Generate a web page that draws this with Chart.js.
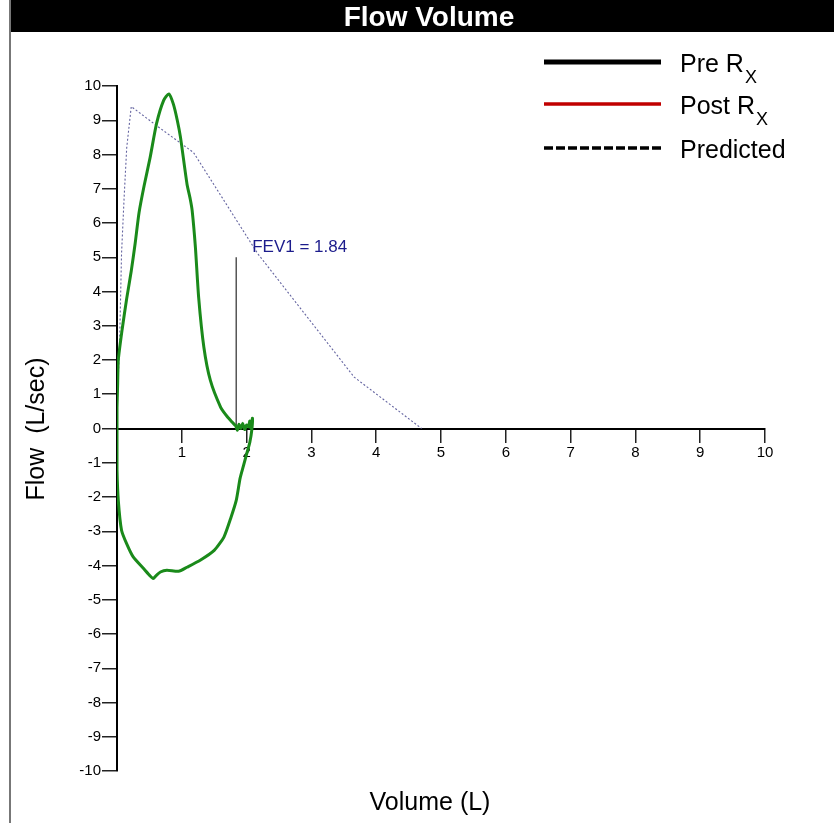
<!DOCTYPE html>
<html>
<head>
<meta charset="utf-8">
<title>Flow Volume</title>
<script src="https://cdn.jsdelivr.net/npm/chart.js@4/dist/chart.umd.min.js"></script>
<style>
    html, body { margin: 0; padding: 0; background: #fff; }
    #flowVolumeChart { display: block; }
</style>
</head>
<body>
<canvas id="flowVolumeChart" width="834" height="823"></canvas>
<script>
/* ============================================================================
   Flow Volume loop
   - measured loop (green), predicted curve (dotted), FEV1 marker
   - legend / title bar drawn by a small plugin (needs subscripts)
   ============================================================================ */

// Measured loop: expiration (0 -> FVC), then inspiration back to 0
const loopVolume = [
    0.00, 0.00, 0.01, 0.02, 0.08, 0.15, 0.22, 0.28, 0.34, 0.42, 0.51, 0.61, 0.72, 0.80, 0.87, 0.93,
    0.98, 1.08, 1.13, 1.16, 1.21, 1.26, 1.34, 1.44, 1.60, 1.70, 1.78, 1.83, 1.86, 1.88, 1.91, 1.94,
    1.97, 2.00, 2.03, 2.05, 2.07, 2.09,
    2.08, 2.05, 2.00, 1.95, 1.90, 1.84, 1.76, 1.65, 1.50, 1.29, 1.08, 0.95, 0.77, 0.67, 0.60, 0.56,
    0.50, 0.41, 0.25, 0.15, 0.07, 0.02, 0.00, 0.00, 0.00
];
const loopFlow = [
    0.00, 0.60, 1.30, 2.00, 2.90, 3.80, 4.60, 5.40, 6.30, 7.10, 7.90, 8.90, 9.58, 9.77, 9.47, 9.00,
    8.50, 7.14, 6.70, 6.36, 5.29, 3.83, 2.38, 1.41, 0.62, 0.35, 0.18, 0.08, -0.05, 0.12, 0.00, 0.15,
    -0.03, 0.10, 0.05, 0.22, 0.00, 0.30,
    -0.05, -0.40, -0.75, -1.10, -1.45, -2.10, -2.59, -3.17, -3.56, -3.84, -4.05, -4.17, -4.14, -4.19, -4.30, -4.38,
    -4.28, -4.09, -3.75, -3.37, -2.97, -2.10, -1.20, -0.50, 0.00
];

// Predicted expiratory curve
const predVolume = [0.00, 0.01, 0.04, 0.07, 0.11, 0.15, 0.22, 0.67, 1.18, 2.17, 3.66, 4.70];
const predFlow   = [0.00, 1.00, 2.50, 5.10, 6.75, 8.20, 9.40, 8.76, 8.06, 5.11, 1.50, 0.00];

// FEV1 marker
const fev1Value = 1.84;
const fev1Height = 5;

// Axes
const volumeTicks = [0, 1, 2, 3, 4, 5, 6, 7, 8, 9, 10];
const flowTicks = [-10, -9, -8, -7, -6, -5, -4, -3, -2, -1, 0, 1, 2, 3, 4, 5, 6, 7, 8, 9, 10];

// Legend entries (main text + subscript)
const legendLabels = ['Pre R', 'Post R', 'Predicted'];
const legendSubs = ['X', 'X', ''];

const toPoints = (xs, ys) => xs.map((x, i) => ({ x: x, y: ys[i] }));

const tickFont = { family: '"Liberation Sans", Arial, sans-serif', size: 15 };

// Title bar, frame, axis titles, legend and FEV1 label
const decorPlugin = {
    id: 'decor',
    beforeDraw(chart) {
        const c = chart.ctx;
        c.save();
        c.fillStyle = '#fff';
        c.fillRect(0, 0, chart.width, chart.height);
        c.fillStyle = '#000';
        c.fillRect(11, 0, chart.width - 11, 32);
        c.strokeStyle = '#777';
        c.lineWidth = 2;
        c.beginPath();
        c.moveTo(10, 0);
        c.lineTo(10, chart.height);
        c.stroke();
        c.fillStyle = '#fff';
        c.font = 'bold 28px "Liberation Sans", Arial, sans-serif';
        c.textAlign = 'center';
        c.textBaseline = 'alphabetic';
        c.fillText('Flow Volume', 429, 26);
        c.restore();
    },
    afterDraw(chart) {
        const c = chart.ctx;
        const xs = chart.scales.x;
        const ys = chart.scales.y;
        c.save();

        // axis titles
        c.fillStyle = '#000';
        c.font = '25px "Liberation Sans", Arial, sans-serif';
        c.textAlign = 'center';
        c.textBaseline = 'middle';
        c.fillText('Volume (L)', 430, 803);
        c.translate(37, 429);
        c.rotate(-Math.PI / 2);
        c.fillText('Flow  (L/sec)', 0, 0);
        c.setTransform(1, 0, 0, 1, 0, 0);

        // FEV1 label
        c.fillStyle = '#1c1c8c';
        c.font = '17px "Liberation Sans", Arial, sans-serif';
        c.textAlign = 'left';
        c.textBaseline = 'alphabetic';
        c.fillText('FEV1 = ' + fev1Value.toFixed(2), xs.getPixelForValue(fev1Value) + 16, ys.getPixelForValue(fev1Height) - 5);

        // legend
        const styles = [
            { color: '#000', width: 5, dash: [] },
            { color: '#c00000', width: 3.5, dash: [] },
            { color: '#000', width: 3.5, dash: [9, 3] }
        ];
        const rowY = [62, 104, 148];
        legendLabels.forEach((label, i) => {
            c.strokeStyle = styles[i].color;
            c.lineWidth = styles[i].width;
            c.setLineDash(styles[i].dash);
            c.beginPath();
            c.moveTo(544, rowY[i]);
            c.lineTo(661, rowY[i]);
            c.stroke();
            c.setLineDash([]);
            c.fillStyle = '#000';
            c.font = '25px "Liberation Sans", Arial, sans-serif';
            c.fillText(label, 680, rowY[i] + 10);
            if (legendSubs[i]) {
                const w = c.measureText(label).width;
                c.font = '18px "Liberation Sans", Arial, sans-serif';
                c.fillText(legendSubs[i], 680 + w + 1, rowY[i] + 21);
            }
        });
        c.restore();
    }
};

const ctx = document.getElementById('flowVolumeChart');

const flowVolumeChart = new Chart(ctx, {
    type: 'scatter',
    data: {
        datasets: [
            {
                label: 'Predicted',
                data: toPoints(predVolume, predFlow),
                showLine: true,
                borderColor: '#6464a0',
                borderWidth: 1.1,
                borderDash: [2, 2],
                pointRadius: 0,
                tension: 0,
                order: 3
            },
            {
                label: 'FEV1',
                data: [{ x: fev1Value, y: 0 }, { x: fev1Value, y: fev1Height }],
                showLine: true,
                borderColor: '#555',
                borderWidth: 1.5,
                pointRadius: 0,
                order: 2
            },
            {
                label: 'Trial',
                data: toPoints(loopVolume, loopFlow),
                showLine: true,
                borderColor: '#1a8a1a',
                borderWidth: 3,
                pointRadius: 0,
                tension: 0.2,
                order: 1
            }
        ]
    },
    options: {
        responsive: false,
        animation: false,
        layout: { padding: { top: 86, right: 69, bottom: 52, left: 0 } },
        plugins: {
            legend: { display: false },
            tooltip: { enabled: false },
            title: { display: false }
        },
        scales: {
            x: {
                type: 'linear',
                min: volumeTicks[0],
                max: volumeTicks[volumeTicks.length - 1],
                position: { y: 0 },
                afterBuildTicks: (s) => { s.ticks = volumeTicks.map(v => ({ value: v })); },
                grid: {
                    drawOnChartArea: false,
                    drawTicks: true,
                    tickLength: 13,
                    color: '#222',
                    lineWidth: 1.5
                },
                border: { display: true, color: '#000', width: 2 },
                ticks: {
                    font: tickFont,
                    color: '#000',
                    padding: 2,
                    maxRotation: 0,
                    autoSkip: false,
                    callback: (v) => v === 0 ? '' : v
                }
            },
            y: {
                type: 'linear',
                min: flowTicks[0],
                max: flowTicks[flowTicks.length - 1],
                afterBuildTicks: (s) => { s.ticks = flowTicks.map(v => ({ value: v })); },
                afterFit: (s) => { s.width = 117; },
                grid: {
                    drawOnChartArea: false,
                    drawTicks: true,
                    tickLength: 15,
                    color: '#222',
                    lineWidth: 1.5
                },
                border: { display: true, color: '#000', width: 2 },
                ticks: {
                    font: tickFont,
                    color: '#000',
                    padding: 1,
                    autoSkip: false
                }
            }
        }
    },
    plugins: [decorPlugin]
});
</script>
</body>
</html>
